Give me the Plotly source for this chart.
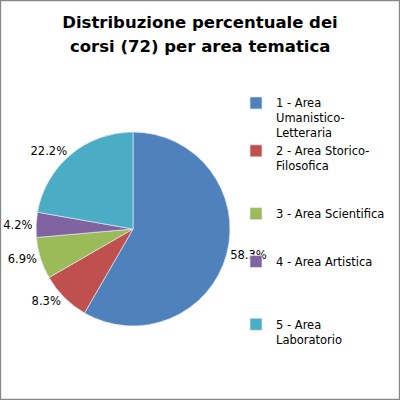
import plotly.graph_objects as go

# corsi per area tematica (totale 72)
aree = ['1 - Area<br>Umanistico-<br>Letteraria',
        '2 - Area Storico-<br>Filosofica<br>\u00a0<br>\u00a0',
        '3 - Area Scientifica<br>\u00a0<br>\u00a0',
        '4 - Area Artistica<br>\u00a0<br>\u00a0<br>\u00a0',
        '5 - Area<br>Laboratorio']
corsi = [42, 6, 5, 3, 16]
colori = ['#4F81BD', '#C0504D', '#9BBB59', '#8064A2', '#4BACC6']

fig = go.Figure(go.Pie(
    labels=aree, values=corsi, sort=False, direction='clockwise', rotation=0,
    marker=dict(colors=colori, line=dict(color='#dfe6f0', width=0.7)),
    texttemplate='%{percent:.1%}', textposition='outside', automargin=False,
    textfont=dict(family='DejaVu Sans', size=11.5, color='#000000'),
    domain=dict(x=[36/400, 230/400], y=[74/400, 268/400]),
    hoverinfo='label+percent',
))

fig.update_layout(
    width=400, height=400,
    margin=dict(l=0, r=0, t=0, b=0, autoexpand=False),
    paper_bgcolor='white',
    font=dict(family='DejaVu Sans', color='#000000'),
    title=dict(text='<b>Distribuzione percentuale dei</b>',
               x=0.5, xanchor='center', y=0.945, yanchor='middle',
               font=dict(family='DejaVu Sans', size=16.5, color='#000000')),
    annotations=[dict(text='<b>corsi (72) per area tematica</b>', xref='paper', yref='paper',
                      x=0.5, y=1 - 47/400, xanchor='center', yanchor='middle', showarrow=False,
                      font=dict(family='DejaVu Sans', size=16.5, color='#000000'))],
    legend=dict(x=0.59, xanchor='left', y=0.7775, yanchor='top', valign='top',
                bgcolor='rgba(0,0,0,0)',
                font=dict(family='DejaVu Sans', size=11.5), traceorder='normal'),
    shapes=[dict(type='rect', xref='paper', yref='paper', x0=0.001, y0=0.001, x1=0.999, y1=0.999,
                 line=dict(color='#868686', width=1.5))],
)

fig.write_html('out.html', config={'displayModeBar': False},
               post_script="document.body.style.margin='0';document.body.style.overflow='hidden';")
